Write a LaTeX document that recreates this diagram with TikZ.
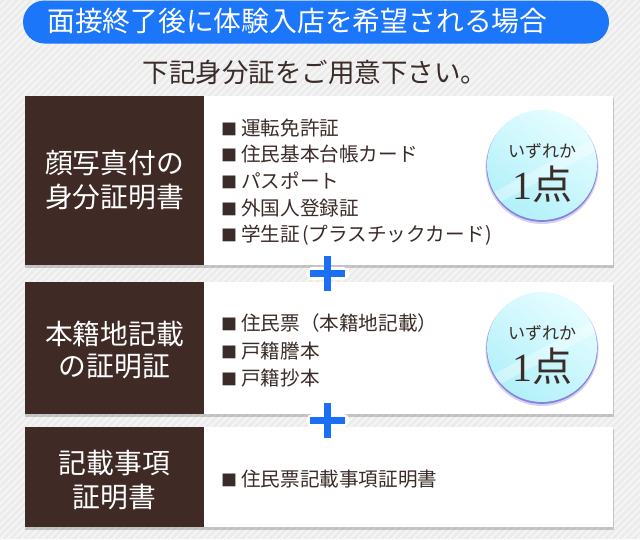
\documentclass[tikz,border=0pt]{standalone}
\usepackage{fontspec}
\newfontfamily\jp{Noto Sans CJK JP}
\newfontfamily\serifnum{Liberation Serif}
\definecolor{bgc}{HTML}{EBEBEB}
\definecolor{stripec}{HTML}{F4F4F4}
\definecolor{bannerc}{HTML}{1C76FA}
\definecolor{brownc}{HTML}{3F2A25}
\definecolor{txtc}{HTML}{3A2C28}
\definecolor{plusc}{HTML}{1A6FF5}
\definecolor{rimc}{HTML}{6E68D2}
\definecolor{cyanl}{HTML}{E6FDFF}
\definecolor{cyand}{HTML}{B2F0FA}
\newcommand\sqb{\makebox[19pt][l]{\hspace{-1pt}\fontsize{16}{16}\selectfont ■}}
\begin{document}
\begin{tikzpicture}[x=1pt,y=-1pt,
  stripe/.style={stripec,line width=2.2pt},
  bannerbox/.style={fill=bannerc,rounded corners=21.5pt,minimum width=586,minimum height=43,inner sep=0,outer sep=0},
  bantxt/.style={text=white,font=\jp\fontsize{27.8}{28}\selectfont,inner sep=0,anchor=west},
  subtxt/.style={text=txtc,font=\jp\fontsize{26.5}{27}\selectfont,inner sep=0},
  darkbox/.style={fill=brownc,minimum width=179,inner sep=0,outer sep=0,anchor=north west},
  whitebox/.style={fill=white,minimum width=409,inner sep=0,outer sep=0,anchor=north west},
  lefttxt/.style={text=white,font=\jp\fontsize{27.8}{28}\selectfont,inner sep=0},
  item/.style={text=txtc,font=\jp\fontsize{19.6}{20}\selectfont,inner sep=0,anchor=west},
  badgebox/.style={circle,minimum size=111,inner sep=0,outer sep=0},
  badgesmall/.style={text=txtc,font=\jp\fontsize{17}{17}\selectfont,inner sep=0},
  badgebig/.style={text=txtc,font=\fontsize{40}{40}\selectfont,inner sep=0},
  plusw/.style={white,line width=13pt,line cap=round},
  plusb/.style={plusc,line width=7pt},
  shadowc/.style={black,opacity=0.18}
]
\useasboundingbox (0,0) rectangle (640,539);
\fill[bgc] (0,0) rectangle (640,539);
\begin{scope}
\clip (0,0) rectangle (640,539);
\foreach \i in {-560,-553,...,640} \draw[stripe] (\i,539) -- ++(539,-539);
\end{scope}

% banner
\node[bannerbox] (ban) at (316,22) {};
\node[bantxt] (bantext) at (47,21) {面接終了後に体験入店を希望される場合};
\node[subtxt] (sub) at (315,72) {下記身分証をご用意下さい。};

% shadows
\fill[shadowc] (25,98) rectangle (614,268);
\fill[shadowc] (25,285) rectangle (614,417);
\fill[shadowc] (25,429) rectangle (614,530);

% panel 1
\node[darkbox,minimum height=169] (d1) at (25,96) {};
\node[whitebox,minimum height=169] (w1) at (204,96) {};
\node[lefttxt] (l1a) at (114.5,163) {顔写真付の};
\node[lefttxt] (l1b) at (114.5,197) {身分証明書};
\node[item] (i11) at (222,128) {\sqb 運転免許証};
\node[item] (i12) at (222,154.5) {\sqb 住民基本台帳カード};
\node[item] (i13) at (222,181) {\sqb パスポート};
\node[item] (i14) at (222,208) {\sqb 外国人登録証};
\node[item] (i15) at (222,235) {\sqb 学生証\hspace{2pt}(プラスチックカード\hspace{1pt})};

% panel 2
\node[darkbox,minimum height=132] (d2) at (25,282) {};
\node[whitebox,minimum height=132] (w2) at (204,282) {};
\node[lefttxt] (l2a) at (114.5,334) {本籍地記載};
\node[lefttxt] (l2b) at (114.5,367) {の証明証};
\node[item] (i21) at (222,323) {\sqb 住民票（本籍地記載）};
\node[item] (i22) at (222,351) {\sqb 戸籍謄本};
\node[item] (i23) at (222,378) {\sqb 戸籍抄本};

% panel 3
\node[darkbox,minimum height=100] (d3) at (25,427) {};
\node[whitebox,minimum height=100] (w3) at (204,427) {};
\node[lefttxt] (l3a) at (114.5,463) {記載事項};
\node[lefttxt] (l3b) at (114.5,497) {証明書};
\node[item] (i31) at (222,479) {\sqb 住民票記載事項証明書};

% badges
\foreach \n/\cy in {1/165,2/347}{
  \fill[rimc,opacity=0.3] (542,\cy+2.5) circle (56.5);
  \fill[rimc,opacity=0.75] (542,\cy+1.3) circle (55.6);
  \shade[top color=cyanl,bottom color=cyand,shading angle=-35] (542,\cy) circle (55);
  \begin{scope}
    \clip (542,\cy) circle (55);
    \fill[white,opacity=0.35] (470,\cy+40) -- (600,\cy-30) -- (610,\cy-22) -- (480,\cy+48) -- cycle;
  \end{scope}
  \node[badgebox] (bd\n) at (542,\cy) {};
  \node[badgesmall] (bs\n) at (542,\cy-14) {いずれか};
  \node[badgebig] (bb\n) at (542,\cy+19) {{\serifnum 1}{\jp 点}};
}

% plus signs
\coordinate (p1) at (327.8,273.7);
\coordinate (p2) at (327.8,420);
\foreach \p in {p1,p2}{
  \draw[plusw] (\p) ++(-15,0) -- ++(30,0);
  \draw[plusb] (\p) ++(-17.5,0) -- ++(35,0);
  \draw[plusb] (\p) ++(0,-17.5) -- ++(0,35);
}
\end{tikzpicture}
\end{document}
